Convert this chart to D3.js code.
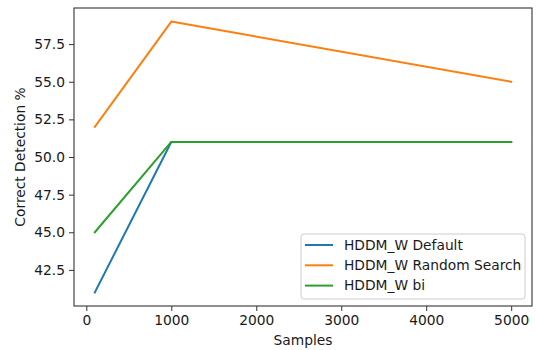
<!DOCTYPE html>
<html>
<head>
<meta charset="utf-8">
<script src="https://cdn.jsdelivr.net/npm/d3@7"></script>
<style>
  body { margin: 0; background: #fff; }
  svg { display: block; font-family: "DejaVu Sans", sans-serif; }
</style>
</head>
<body>
<div id="container"></div>
<script>
(function() {

// Data
let samples = [100, 1000, 5000];
let hddmDefault = [41, 51, 51];
let hddmRandom = [52, 59, 55];
let hddmBi = [45, 51, 51];
let seriesNames = ["HDDM_W Default", "HDDM_W Random Search", "HDDM_W bi"];
let seriesColors = ["#1f77b4", "#ff7f0e", "#2ca02c"];
let xTicks = [0, 1000, 2000, 3000, 4000, 5000];
let yTicks = [42.5, 45.0, 47.5, 50.0, 52.5, 55.0, 57.5];

let series = [hddmDefault, hddmRandom, hddmBi];

let width = 536, height = 350;
let margin = { left: 74, top: 8, right: 4, bottom: 44 };
let fontSize = 13.8;

let svg = d3.select("#container")
  .append("svg")
    .attr("width", width)
    .attr("height", height);

// matplotlib-style 5% margins on the data range
let xPad = (d3.max(samples) - d3.min(samples)) * 0.05;
let allY = [].concat(...series);
let yPad = (d3.max(allY) - d3.min(allY)) * 0.05;

let x = d3.scaleLinear()
  .domain([d3.min(samples) - xPad, d3.max(samples) + xPad])
  .range([margin.left, width - margin.right]);
let y = d3.scaleLinear()
  .domain([d3.min(allY) - yPad, d3.max(allY) + yPad])
  .range([height - margin.bottom, margin.top]);

// Axes
let xAxis = svg.append("g")
  .attr("transform", "translate(0," + (height - margin.bottom) + ")")
  .call(d3.axisBottom(x).tickValues(xTicks).tickFormat(d3.format("d")).tickSizeOuter(0).tickSize(5).tickPadding(4));
let yAxis = svg.append("g")
  .attr("transform", "translate(" + margin.left + ",0)")
  .call(d3.axisLeft(y).tickValues(yTicks).tickFormat(d3.format(".1f")).tickSizeOuter(0).tickSize(5).tickPadding(4));

[xAxis, yAxis].forEach((g) => {
  g.selectAll("text").attr("font-size", fontSize).attr("font-family", "DejaVu Sans").attr("fill", "#1a1a1a");
  g.selectAll("line").attr("stroke", "#333").attr("stroke-width", 1);
  g.select(".domain").remove();
});

// Frame
svg.append("rect")
  .attr("x", margin.left)
  .attr("y", margin.top)
  .attr("width", width - margin.left - margin.right)
  .attr("height", height - margin.top - margin.bottom)
  .attr("fill", "none")
  .attr("stroke", "#333")
  .attr("stroke-width", 1.1);

// Lines
let line = d3.line()
  .x((d, i) => x(samples[i]))
  .y((d) => y(d));

svg.append("g")
  .selectAll("path")
  .data(series)
  .enter()
  .append("path")
    .attr("d", line)
    .attr("fill", "none")
    .attr("stroke", (d, i) => seriesColors[i])
    .attr("stroke-width", 2)
    .attr("stroke-linejoin", "round")
    .attr("stroke-linecap", "square");

// Axis labels
svg.append("text")
  .attr("x", (margin.left + width - margin.right) / 2)
  .attr("y", 345)
  .attr("text-anchor", "middle")
  .attr("font-size", fontSize)
  .attr("fill", "#1a1a1a")
  .text("Samples");
svg.append("text")
  .attr("transform", "translate(25," + ((margin.top + height - margin.bottom) / 2) + ") rotate(-90)")
  .attr("text-anchor", "middle")
  .attr("font-size", fontSize)
  .attr("fill", "#1a1a1a")
  .text("Correct Detection %");

// Legend
let legend = svg.append("g").attr("transform", "translate(301,234)");
legend.append("rect")
  .attr("width", 224)
  .attr("height", 65)
  .attr("rx", 3)
  .attr("fill", "#fff")
  .attr("fill-opacity", 0.8)
  .attr("stroke", "#ccc")
  .attr("stroke-width", 1);
let items = legend.selectAll(".legend-item")
  .data(seriesNames)
  .enter()
  .append("g")
    .attr("transform", (d, i) => "translate(0," + (11 + i * 20.3) + ")");
items.append("line")
  .attr("x1", 4).attr("x2", 32)
  .attr("stroke", (d, i) => seriesColors[i])
  .attr("stroke-width", 2);
items.append("text")
  .attr("x", 43)
  .attr("dy", "0.35em")
  .attr("font-size", fontSize)
  .attr("fill", "#1a1a1a")
  .text((d) => d);

})();
</script>
</body>
</html>
